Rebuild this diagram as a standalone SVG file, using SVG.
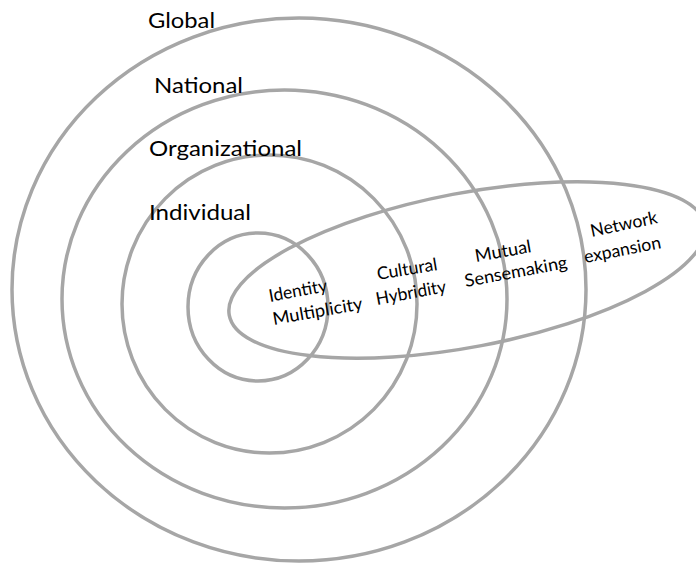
<svg xmlns="http://www.w3.org/2000/svg" width="696" height="565" viewBox="0 0 696 565">
<style>
.ring{fill:none;stroke:#a6a6a6;stroke-width:3.5}
.big{font-family:Lato,"Open Sans","Liberation Sans",sans-serif;font-size:21.5px;fill:#000}
.small{font-family:Lato,"Open Sans","Liberation Sans",sans-serif;font-size:17.5px;fill:#000;text-anchor:middle}
</style>
<rect width="696" height="565" fill="#fff"/>
<g id="global">
<ellipse class="ring" cx="299" cy="289.5" rx="287" ry="271.5"/>
<text class="big" x="148" y="27.5" textLength="67" lengthAdjust="spacingAndGlyphs">Global</text>
</g>
<g id="national">
<ellipse class="ring" cx="284.5" cy="299" rx="222.5" ry="209"/>
<text class="big" x="154" y="93" textLength="89" lengthAdjust="spacingAndGlyphs">National</text>
</g>
<g id="organizational">
<ellipse class="ring" cx="269.5" cy="304" rx="147.5" ry="149"/>
<text class="big" x="149" y="156" textLength="153" lengthAdjust="spacingAndGlyphs">Organizational</text>
</g>
<g id="individual">
<ellipse class="ring" cx="258" cy="307" rx="70" ry="74"/>
<text class="big" x="149" y="220" textLength="102" lengthAdjust="spacingAndGlyphs">Individual</text>
</g>
<g id="process">
<ellipse class="ring" cx="467" cy="270" rx="242" ry="77" transform="rotate(-10.8 467 270)"/>
</g>
<g id="identity-multiplicity">
<text class="small" transform="translate(299 296.5) rotate(-10.5)" textLength="59" lengthAdjust="spacingAndGlyphs">Identity</text>
<text class="small" transform="translate(318.5 317) rotate(-10)" textLength="91" lengthAdjust="spacingAndGlyphs">Multiplicity</text>
</g>
<g id="cultural-hybridity">
<text class="small" transform="translate(408 275) rotate(-9.5)" textLength="61" lengthAdjust="spacingAndGlyphs">Cultural</text>
<text class="small" transform="translate(412 298.5) rotate(-10.5)" textLength="71" lengthAdjust="spacingAndGlyphs">Hybridity</text>
</g>
<g id="mutual-sensemaking">
<text class="small" transform="translate(504 257) rotate(-10)" textLength="57" lengthAdjust="spacingAndGlyphs">Mutual</text>
<text class="small" transform="translate(517 277.5) rotate(-10.5)" textLength="104" lengthAdjust="spacingAndGlyphs">Sensemaking</text>
</g>
<g id="network-expansion">
<text class="small" transform="translate(625 230) rotate(-12)" textLength="68" lengthAdjust="spacingAndGlyphs">Network</text>
<text class="small" transform="translate(623.5 255.5) rotate(-11)" textLength="78" lengthAdjust="spacingAndGlyphs">expansion</text>
</g>
</svg>
